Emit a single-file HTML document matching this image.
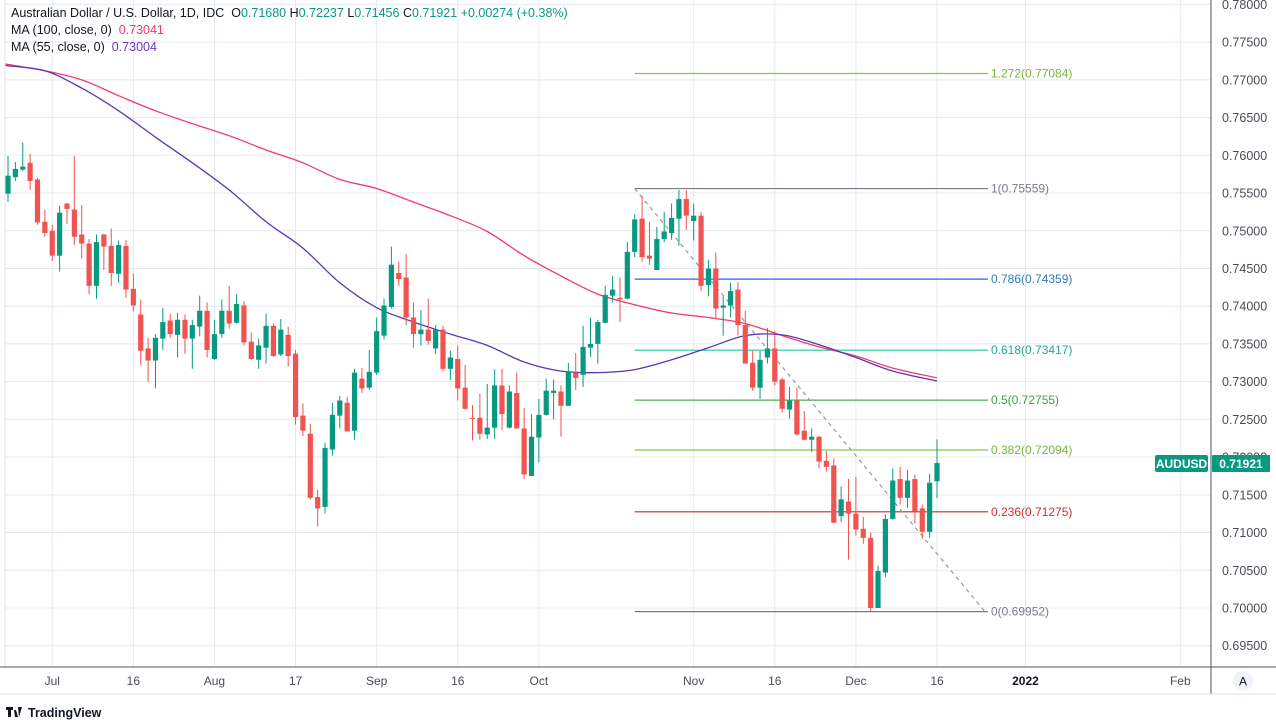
<!DOCTYPE html>
<html><head><meta charset="utf-8">
<style>
html,body{margin:0;padding:0;background:#fff;}
body{width:1276px;height:723px;overflow:hidden;font-family:"Liberation Sans",sans-serif;}
svg text{font-family:"Liberation Sans",sans-serif;}
</style></head>
<body>
<svg id="chart" width="1276" height="723" viewBox="0 0 1276 723" xmlns="http://www.w3.org/2000/svg">
<rect x="0" y="0" width="1276" height="723" fill="#fff"/>
<g id="grid"></g>
<g id="fib"></g>
<g id="mas"></g>
<g id="candles"></g>
<line x1="5" y1="0" x2="5" y2="667" stroke="#e0e3eb"/>
<line x1="1211" y1="0" x2="1211" y2="694" stroke="#50535e"/>
<line x1="0" y1="667" x2="1276" y2="667" stroke="#50535e"/>
<line x1="0" y1="694" x2="1276" y2="694" stroke="#e0e3eb"/>
<g id="yaxis"></g>
<g id="xaxis"></g>
<g>
<rect x="1155" y="455" width="53" height="17" rx="2" fill="#089981"/>
<text x="1181.5" y="468" fill="#fff" font-size="12" font-weight="bold" text-anchor="middle">AUDUSD</text>
</g>
<g>
<rect x="1212" y="455" width="58" height="17" rx="1" fill="#089981"/>
<text x="1241" y="468" fill="#fff" font-size="12" font-weight="bold" text-anchor="middle">0.71921</text>
</g>
<g>
<circle cx="1243" cy="681" r="10" fill="#f0f3fa"/>
<text x="1243" y="685.5" fill="#131722" font-size="12" text-anchor="middle">A</text>
</g>
<g font-size="12.5">
<text x="11" y="17" fill="#131722" xml:space="preserve">Australian Dollar / U.S. Dollar, 1D, IDC  <tspan>O</tspan><tspan fill="#089981">0.71680</tspan> <tspan>H</tspan><tspan fill="#089981">0.72237</tspan> <tspan>L</tspan><tspan fill="#089981">0.71456</tspan> <tspan>C</tspan><tspan fill="#089981">0.71921 +0.00274 (+0.38%)</tspan></text>
<text x="11" y="34" fill="#131722" xml:space="preserve">MA (100, close, 0)  <tspan fill="#f23a6c">0.73041</tspan></text>
<text x="11" y="51" fill="#131722" xml:space="preserve">MA (55, close, 0)  <tspan fill="#673ab7">0.73004</tspan></text>
</g>
<g>
<path d="M6 707h7v3h-2v7h-3v-7h-2z M14 710l2 0 2 7h-3z M18 707 l4 0 -3 10z" fill="#131722"/>
<text x="28" y="717" fill="#131722" font-size="12.5" font-weight="bold">TradingView</text>
</g>
</svg>
<script>
const NS='http://www.w3.org/2000/svg';
// ---- data ----
const opens=[0.7549,0.7571,0.7581,0.7590,0.7568,0.7512,0.7500,0.7467,0.7536,0.7528,0.7495,0.7483,0.7427,0.7495,0.7480,0.7443,0.7480,0.7423,0.7389,0.7344,0.7328,0.7357,0.7381,0.7362,0.7382,0.7357,0.7373,0.7394,0.7330,0.7363,0.7394,0.7378,0.7401,0.7353,0.7329,0.7345,0.7374,0.7336,0.7362,0.7337,0.7255,0.7231,0.7147,0.7134,0.7210,0.7255,0.7272,0.7235,0.7304,0.7292,0.7312,0.7361,0.7399,0.7444,0.7438,0.7385,0.7363,0.7369,0.7344,0.7369,0.7317,0.7330,0.7292,0.7252,0.7252,0.7230,0.7239,0.7295,0.7239,0.7285,0.7238,0.7175,0.7226,0.7256,0.7285,0.7287,0.7268,0.7312,0.7309,0.7345,0.7350,0.7378,0.7414,0.7411,0.7410,0.7472,0.7516,0.7467,0.7448,0.7489,0.7497,0.7516,0.7542,0.7513,0.7520,0.7428,0.7450,0.7398,0.7401,0.7422,0.7375,0.7325,0.7292,0.7332,0.7344,0.7303,0.7263,0.7275,0.7235,0.7223,0.7227,0.7195,0.7189,0.7122,0.7141,0.7125,0.7105,0.7093,0.7000,0.7047,0.7118,0.7171,0.7146,0.7171,0.7132,0.7101,0.7168];
const highs=[0.7599,0.7591,0.7617,0.7602,0.7570,0.7528,0.7508,0.7533,0.7537,0.7599,0.7534,0.7489,0.7495,0.7496,0.7503,0.7487,0.7488,0.7443,0.7409,0.7358,0.7363,0.7398,0.7390,0.7391,0.7389,0.7382,0.7414,0.7405,0.7382,0.7409,0.7427,0.7416,0.7407,0.7365,0.7357,0.7390,0.7377,0.7383,0.7373,0.7342,0.7271,0.7244,0.7157,0.7219,0.7272,0.7281,0.7280,0.7317,0.7318,0.7342,0.7385,0.7410,0.7479,0.7459,0.7469,0.7405,0.7395,0.7410,0.7375,0.7374,0.7341,0.7348,0.7322,0.7269,0.7284,0.7297,0.7316,0.7317,0.7295,0.7312,0.7265,0.7257,0.7277,0.7304,0.7303,0.7295,0.7325,0.7338,0.7374,0.7385,0.7382,0.7427,0.7440,0.7438,0.7485,0.7522,0.7546,0.7512,0.7505,0.7525,0.7536,0.7554,0.7554,0.7536,0.7525,0.7461,0.7471,0.7413,0.7431,0.7432,0.7394,0.7341,0.7341,0.7371,0.7367,0.7305,0.7293,0.7292,0.7261,0.7238,0.7228,0.7208,0.7198,0.7161,0.7171,0.7174,0.7121,0.7100,0.7056,0.7124,0.7185,0.7187,0.7183,0.7177,0.7137,0.7178,0.72237];
const lows=[0.7538,0.7566,0.7579,0.7554,0.7508,0.7492,0.7460,0.7446,0.7509,0.7481,0.7463,0.7416,0.7410,0.7448,0.7427,0.7431,0.7411,0.7393,0.7322,0.7300,0.7291,0.7342,0.7358,0.7332,0.7337,0.7317,0.7360,0.7332,0.7329,0.7358,0.7370,0.7377,0.7348,0.7329,0.7317,0.7324,0.7333,0.7334,0.7320,0.7243,0.7228,0.7144,0.7108,0.7125,0.7202,0.7238,0.7234,0.7223,0.7285,0.7289,0.7309,0.7356,0.7397,0.7427,0.7375,0.7345,0.7348,0.7349,0.7337,0.7314,0.7302,0.7275,0.7263,0.7222,0.7223,0.7224,0.7224,0.7236,0.7238,0.7238,0.7171,0.7175,0.7193,0.7255,0.7250,0.7227,0.7268,0.7289,0.7293,0.7333,0.7324,0.7378,0.7405,0.7379,0.7409,0.7465,0.7459,0.7455,0.7448,0.7485,0.7488,0.7480,0.7501,0.7487,0.7420,0.7413,0.7383,0.7361,0.7385,0.7361,0.7324,0.7288,0.7277,0.7324,0.7295,0.7259,0.7251,0.7228,0.7222,0.7207,0.7185,0.7181,0.7113,0.7114,0.7064,0.7096,0.7085,0.6996,0.7000,0.7041,0.7117,0.7137,0.7133,0.7112,0.7092,0.7093,0.71456];
const closes=[0.7573,0.7582,0.7585,0.7566,0.7511,0.7497,0.7467,0.7524,0.7529,0.7492,0.7483,0.7427,0.7485,0.7479,0.7444,0.7481,0.7422,0.7401,0.7341,0.7328,0.7358,0.7379,0.7363,0.7382,0.7357,0.7375,0.7394,0.7342,0.7363,0.7394,0.7377,0.7403,0.7352,0.7330,0.7348,0.7374,0.7334,0.7369,0.7334,0.7253,0.7235,0.7146,0.7132,0.7212,0.7256,0.7275,0.7234,0.7312,0.7291,0.7313,0.7367,0.7401,0.7455,0.7436,0.7385,0.7363,0.7369,0.7354,0.7369,0.7317,0.7332,0.7291,0.7264,0.7251,0.7231,0.7239,0.7295,0.7257,0.7287,0.7238,0.7177,0.7227,0.7256,0.7288,0.7288,0.7268,0.7313,0.7305,0.7346,0.7350,0.7379,0.7415,0.7422,0.7409,0.7472,0.7515,0.7465,0.7463,0.7489,0.7499,0.7517,0.7542,0.7520,0.7520,0.7427,0.7450,0.7397,0.7401,0.7420,0.7375,0.7324,0.7292,0.7329,0.7344,0.7300,0.7264,0.7275,0.7230,0.7223,0.7227,0.7194,0.7187,0.7113,0.7144,0.7125,0.7104,0.7093,0.7000,0.7049,0.7118,0.7169,0.7146,0.7169,0.7128,0.7101,0.7166,0.71921];
const maIdx=[-0.4,5,10,15,20,25,30,35,40,45,50,55,60,65,70,75,80,85,90,95,100,105,110,115,120,126];
const ma100=[0.7721,0.7712,0.7700,0.7679,0.7659,0.7642,0.7626,0.7607,0.7590,0.7568,0.7556,0.7538,0.7520,0.7499,0.7467,0.7440,0.7416,0.7402,0.7391,0.7385,0.7377,0.7361,0.7346,0.7334,0.7318,0.7305];
const ma55=[0.7719,0.7712,0.7689,0.7659,0.7624,0.7590,0.7554,0.7512,0.7477,0.7431,0.7398,0.7379,0.7363,0.7348,0.7326,0.7314,0.7312,0.7316,0.7329,0.7345,0.7361,0.7362,0.7349,0.7332,0.7314,0.7301];
const priceTicks=[0.78,0.775,0.77,0.765,0.76,0.755,0.75,0.745,0.74,0.735,0.73,0.725,0.72,0.715,0.71,0.705,0.70,0.695];
const timeTickIdx=[6,17,28,39,50,61,72,93,104,115,126,138,159];
const timeTickLabels=['Jul','16','Aug','17','Sep','16','Oct','Nov','16','Dec','16','2022','Feb'];
const fibLevels=['1.272','1','0.786','0.618','0.5','0.382','0.236','0'];
const fibPrices=[0.77084,0.75559,0.74359,0.73417,0.72755,0.72094,0.71275,0.69952];
const fibColors=['#8bc34a','#787b86','#2962ff','#26c6a0','#4caf50','#8bc34a','#c62828','#787b86'];
const fibLabelColors=['#7cb342','#787b86','#2e7dbd','#26a69a','#43a047','#7cb342','#d32f2f','#787b86'];
const trendStart={idx:85,price:0.75559};
const trendEnd={idx:132.5,price:0.69952};
// ---- scales ----
function xS(i){return 8+i*7.373;}
function yS(p){return 4.4+(0.78-p)*7545;}
function mk(tag,attrs,parent){const e=document.createElementNS(NS,tag);for(const k in attrs)e.setAttribute(k,attrs[k]);parent.appendChild(e);return e;}
const grid=document.getElementById('grid'),yax=document.getElementById('yaxis'),xax=document.getElementById('xaxis');
priceTicks.forEach(p=>{
  const y=yS(p);
  const l=mk('line',{x1:5,x2:1211,y1:y,y2:y,stroke:'#e4e9f0'},grid);
  
  
  const t=mk('text',{x:1222,y:y+4.5,'font-size':12.5,fill:'#4a4d57'},yax);
  
  
  t.textContent=p.toFixed(5);
});
timeTickIdx.forEach((idx,k)=>{
  const x=xS(idx);
  const l=mk('line',{x1:x,x2:x,y1:0,y2:667,stroke:'#e4e9f0'},grid);
  
  
  const t=mk('text',{x:x,y:685,'font-size':12,fill:'#4a4d57','text-anchor':'middle'},xax);
  
  
  if(timeTickLabels[k]==='2022'){t.setAttribute('font-weight','bold');t.setAttribute('fill','#131722');}
  t.textContent=timeTickLabels[k];
});
// fib
const fib=document.getElementById('fib');
const fx1=xS(trendStart.idx),fx2=xS(trendEnd.idx);
fibPrices.forEach((p,k)=>{
  const y=yS(p);
  const l=mk('line',{x1:fx1,x2:988,y1:y,y2:y,stroke:fibColors[k],'stroke-width':1.2},fib);
  
  
  const t=mk('text',{x:991,y:y+4,'font-size':12,fill:fibLabelColors[k]},fib);
  
  
  t.textContent=fibLevels[k]+'('+p.toFixed(5)+')';
});
const tl=mk('line',{x1:fx1,y1:yS(trendStart.price),x2:fx2,y2:yS(trendEnd.price),stroke:'#9598a1','stroke-width':1.2,'stroke-dasharray':'4 4'},fib);


// MAs (smooth curve through sampled points)
const mas=document.getElementById('mas');
function maPath(vals,color,name){
  const pts=vals.map((v,k)=>[xS(maIdx[k]),yS(v)]);
  let d='M'+pts[0][0].toFixed(1)+' '+pts[0][1].toFixed(1);
  for(let k=0;k<pts.length-1;k++){
    const p0=pts[Math.max(0,k-1)],p1=pts[k],p2=pts[k+1],p3=pts[Math.min(pts.length-1,k+2)];
    const c1x=p1[0]+(p2[0]-p0[0])/6,c1y=p1[1]+(p2[1]-p0[1])/6;
    const c2x=p2[0]-(p3[0]-p1[0])/6,c2y=p2[1]-(p3[1]-p1[1])/6;
    d+=' C'+c1x.toFixed(1)+' '+c1y.toFixed(1)+' '+c2x.toFixed(1)+' '+c2y.toFixed(1)+' '+p2[0].toFixed(1)+' '+p2[1].toFixed(1);
  }
  const p=mk('path',{d:d,fill:'none',stroke:color,'stroke-width':1.3,'stroke-linejoin':'round'},mas);
  
  
}
maPath(ma100,'#f23a6c','ma100-line');
maPath(ma55,'#5e35b1','ma55-line');
// candles
const cg=document.getElementById('candles');
opens.forEach((o,i)=>{
  const c=closes[i],h=highs[i],l=lows[i];
  const up=c>=o,col=up?'#089981':'#f05350',x=xS(i);
  const g=mk('g',{},cg);
  
  
  mk('line',{x1:x,x2:x,y1:yS(h),y2:yS(l),stroke:col,'stroke-width':1},g);
  const top=yS(Math.max(o,c)),bot=yS(Math.min(o,c));
  mk('rect',{x:x-2.6,y:top,width:5.2,height:Math.max(1,bot-top),fill:col},g);
});
</script>
</body></html>
